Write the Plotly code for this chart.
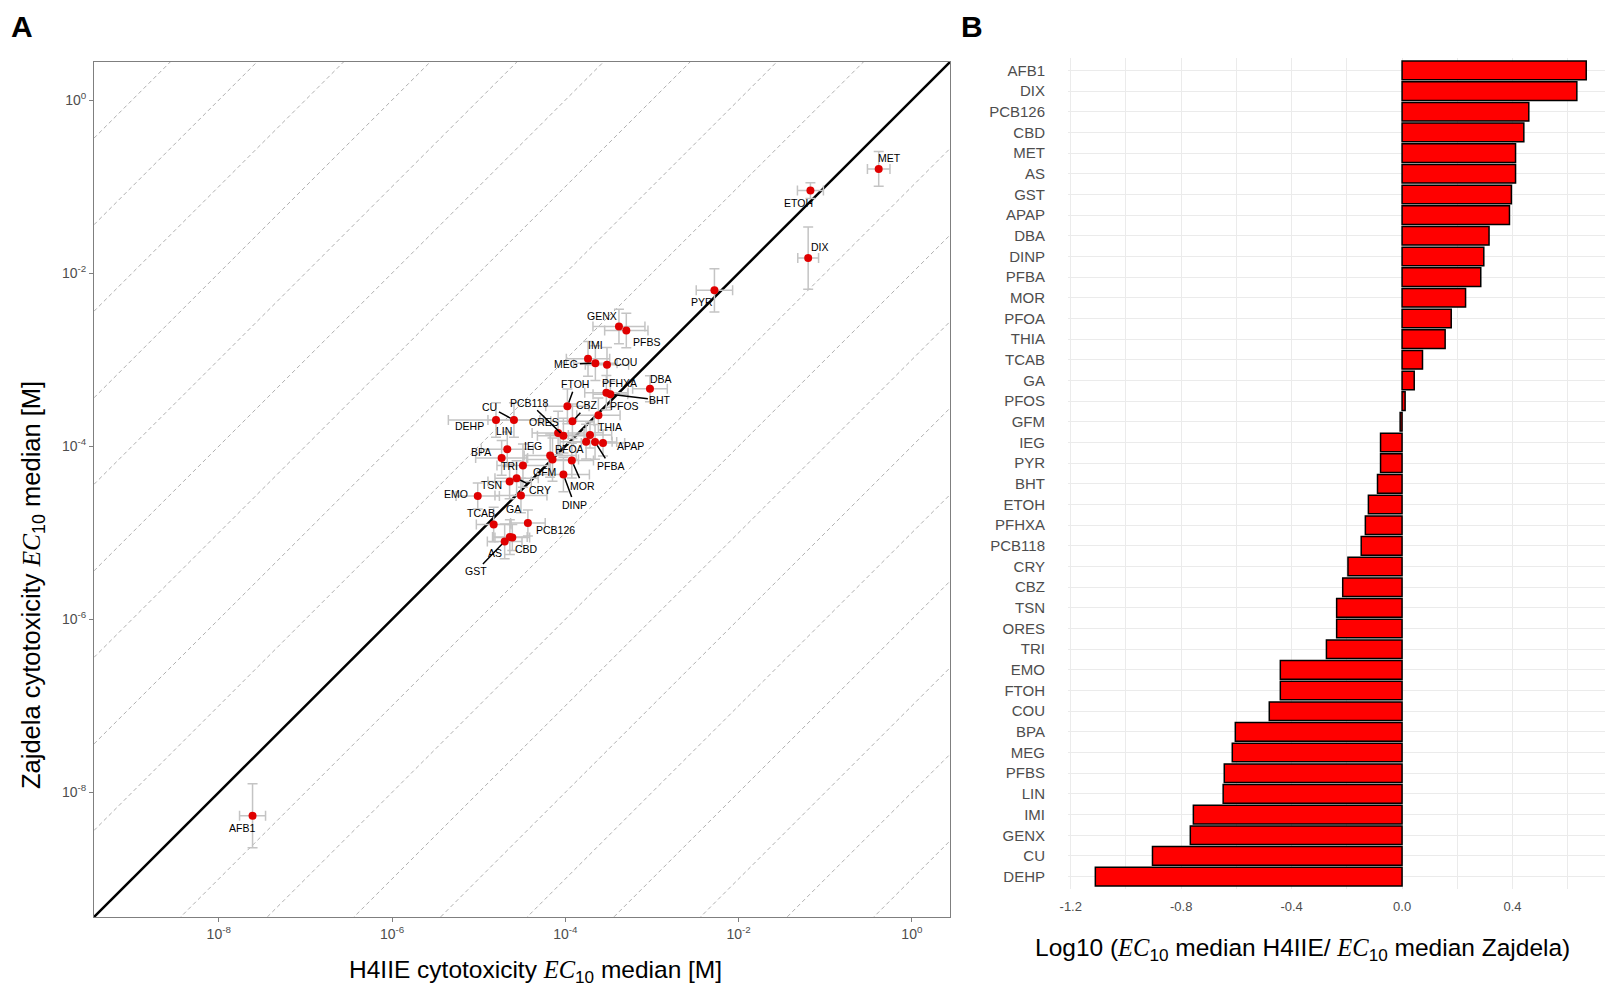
import plotly.graph_objects as go

# ---------------- data ----------------
compounds = ["AFB1", "DIX", "PCB126", "CBD", "MET", "AS", "GST", "APAP", "DBA", "DINP",
             "PFBA", "MOR", "PFOA", "THIA", "TCAB", "GA", "PFOS", "GFM", "IEG", "PYR",
             "BHT", "ETOH", "PFHXA", "PCB118", "CRY", "CBZ", "TSN", "ORES", "TRI", "EMO",
             "FTOH", "COU", "BPA", "MEG", "PFBS", "LIN", "IMI", "GENX", "CU", "DEHP"]

# log10(EC10 median H4IIE / EC10 median Zajdela)
log_ratio = [0.667, 0.633, 0.459, 0.441, 0.411, 0.411, 0.396, 0.389, 0.315, 0.296,
             0.285, 0.230, 0.178, 0.156, 0.074, 0.044, 0.011, -0.007, -0.078, -0.078,
             -0.089, -0.122, -0.133, -0.148, -0.196, -0.215, -0.237, -0.237, -0.274, -0.441,
             -0.441, -0.481, -0.604, -0.615, -0.644, -0.648, -0.756, -0.767, -0.904, -1.111]

# log10 EC10 median [M], H4IIE (x) and Zajdela (y)
log_ec10_h4iie = [-7.61, -1.197, -4.432, -4.612, -0.383, -4.64, -4.70, -3.565, -3.023, -4.022,
                  -3.657, -3.925, -3.76, -3.715, -4.827, -4.512, -3.618, -4.148, -4.175, -2.279,
                  -3.48, -1.171, -3.526, -4.022, -4.562, -3.918, -4.643, -4.083, -4.489, -5.011,
                  -3.976, -3.519, -4.735, -3.653, -3.296, -4.67, -3.738, -3.381, -4.593, -4.80]
log_ec10_zajdela = [-8.27, -1.826, -4.888, -5.054, -0.795, -5.05, -5.10, -3.962, -3.336, -4.327,
                    -3.950, -4.166, -3.947, -3.870, -4.904, -4.569, -3.643, -4.154, -4.108, -2.198,
                    -3.40, -1.046, -3.382, -3.878, -4.369, -3.712, -4.408, -3.847, -4.223, -4.576,
                    -3.539, -3.059, -4.135, -3.040, -2.663, -4.035, -2.990, -2.617, -3.697, -3.697]
# spread (decades) of the error bars
err_h4iie = [0.15, 0.12, 0.20, 0.20, 0.13, 0.20, 0.20, 0.25, 0.20, 0.30,
             0.25, 0.25, 0.30, 0.25, 0.20, 0.30, 0.25, 0.30, 0.30, 0.21,
             0.20, 0.15, 0.25, 0.30, 0.25, 0.25, 0.25, 0.30, 0.30, 0.25,
             0.25, 0.25, 0.30, 0.25, 0.25, 0.30, 0.25, 0.30, 0.30, 0.55]
err_zajdela = [0.37, 0.36, 0.15, 0.15, 0.20, 0.20, 0.20, 0.15, 0.15, 0.20,
               0.20, 0.20, 0.20, 0.15, 0.20, 0.20, 0.20, 0.25, 0.25, 0.25,
               0.15, 0.09, 0.20, 0.20, 0.20, 0.20, 0.20, 0.25, 0.25, 0.15,
               0.20, 0.20, 0.20, 0.20, 0.20, 0.20, 0.20, 0.20, 0.20, 0.20]

tick_exponents = [-8, -6, -4, -2, 0]
bar_ticks = [-1.2, -0.8, -0.4, 0.0, 0.4]

# ---------------- label placement (pixels) ----------------
label_offsets = {
    "AFB1": (-11, 12, 0), "DIX": (12, -11, 0), "PCB126": (28, 7, 0), "CBD": (14, 12, 0),
    "MET": (11, -11, 0), "AS": (-15, 16, 0), "GST": (-29, 30, 1), "APAP": (27, 3, 0),
    "DBA": (11, -10, 0), "DINP": (11, 30, 1), "PFBA": (15, 24, 1), "MOR": (11, 25, 1),
    "PFOA": (-17, 7, 0), "THIA": (20, -8, 0), "TCAB": (-13, -11, 0), "GA": (-7, 14, 0),
    "PFOS": (26, -9, 0), "GFM": (-8, 12, 0), "IEG": (-17, -10, 0), "PYR": (-12, 12, 0),
    "BHT": (50, 6, 1), "ETOH": (-12, 12, 0), "PFHXA": (13, -10, 0), "PCB118": (-34, -33, 1),
    "CRY": (23, 12, 1), "CBZ": (15, -16, 1), "TSN": (-18, 3, 0), "ORES": (-14, -11, 0),
    "TRI": (-13, 0, 0), "EMO": (-22, -2, 0), "FTOH": (8, -22, 1), "COU": (19, -3, 0),
    "BPA": (-21, -6, 0), "MEG": (-29, 1, 1), "PFBS": (20, 11, 0), "LIN": (-3, -18, 0),
    "IMI": (7, -14, 0), "GENX": (-17, -11, 0), "CU": (-24, -13, 1), "DEHP": (-27, 6, 0),
}

LO, HI = -9.44, 0.44
W, H = 1605, 986


def px(p):
    return p / W


def py(p):
    return 1 - p / H


FONT = "Liberation Sans, Arial, sans-serif"
fig = go.Figure()

# dashed reference lines (each decade off the 1:1 line)
for k in range(-9, 10):
    if k == 0:
        continue
    fig.add_trace(go.Scatter(x=[LO, HI], y=[LO + k, HI + k], mode="lines",
                             line=dict(color="#b0b0b0", width=1, dash="4px,3px"),
                             hoverinfo="skip", showlegend=False, xaxis="x", yaxis="y"))
# 1:1 line
fig.add_trace(go.Scatter(x=[LO, HI], y=[LO, HI], mode="lines",
                         line=dict(color="black", width=2.5),
                         hoverinfo="skip", showlegend=False, xaxis="x", yaxis="y"))
# points with error bars
fig.add_trace(go.Scatter(
    x=log_ec10_h4iie, y=log_ec10_zajdela, mode="markers", text=compounds,
    marker=dict(color="#e00000", size=8),
    error_x=dict(type="data", array=err_h4iie, color="#c4c4c4", thickness=1.5, width=5),
    error_y=dict(type="data", array=err_zajdela, color="#c4c4c4", thickness=1.5, width=5),
    showlegend=False, xaxis="x", yaxis="y"))

annotations = []
label_font = dict(family=FONT, size=10.5, color="black")
for name, xv, yv in zip(compounds, log_ec10_h4iie, log_ec10_zajdela):
    ax, ay, line = label_offsets[name]
    if line:
        annotations.append(dict(
            x=xv, y=yv, xref="x", yref="y", text=name, showarrow=True,
            ax=ax, ay=ay, axref="pixel", ayref="pixel", arrowhead=0,
            arrowwidth=1.5, standoff=4, arrowcolor="black", font=label_font))
    else:
        annotations.append(dict(
            x=xv, y=yv, xref="x", yref="y", text=name, showarrow=False,
            xshift=ax, yshift=-ay, xanchor="center", yanchor="middle", font=label_font))

# ---------------- bar panel ----------------
fig.add_trace(go.Bar(
    x=log_ratio, y=compounds, orientation="h",
    marker=dict(color="#ff0000", line=dict(color="black", width=1.5)),
    showlegend=False, xaxis="x2", yaxis="y2"))

ec = "<span style=\"font-family:'Liberation Serif'\"><i>EC</i></span><sub>10</sub>"


def paper_text(text, x, y, size, bold=False, angle=0):
    return dict(x=px(x), y=py(y), xref="paper", yref="paper",
                text=f"<b>{text}</b>" if bold else text, showarrow=False,
                xanchor="center", yanchor="middle", textangle=angle,
                font=dict(family=FONT, size=size, color="black"))


annotations += [
    paper_text("A", 22, 26, 30, bold=True),
    paper_text("B", 972, 26, 30, bold=True),
    paper_text(f"H4IIE cytotoxicity {ec} median [M]", 535, 971, 24.5),
    paper_text(f"Zajdela cytotoxicity {ec} median [M]", 33, 585, 25.5, angle=-90),
    paper_text(f"Log10 ({ec} median H4IIE/ {ec} median Zajdela)", 1302, 949, 24.5),
]

fig.update_layout(
    width=W, height=H,
    margin=dict(l=0, r=0, t=0, b=0, autoexpand=False),
    paper_bgcolor="white", plot_bgcolor="white",
    font=dict(family=FONT, color="black"),
    bargap=0.1,
    annotations=annotations,
    xaxis=dict(
        domain=[px(94), px(950)], range=[LO, HI], anchor="y", automargin=False,
        tickvals=tick_exponents, ticktext=[f"10<sup>{e}</sup>" for e in tick_exponents],
        tickfont=dict(size=14, color="#4d4d4d"),
        ticks="outside", ticklen=4, tickcolor="#7f7f7f",
        showgrid=False, zeroline=False,
        showline=True, linecolor="#7f7f7f", linewidth=1, mirror=True,
    ),
    yaxis=dict(
        domain=[py(917), py(62)], range=[LO, HI], anchor="x", automargin=False,
        tickvals=tick_exponents, ticktext=[f"10<sup>{e}</sup>" for e in tick_exponents],
        tickfont=dict(size=14, color="#4d4d4d"),
        ticks="outside", ticklen=4, tickcolor="#7f7f7f",
        showgrid=False, zeroline=False,
        showline=True, linecolor="#7f7f7f", linewidth=1, mirror=True,
    ),
    xaxis2=dict(
        domain=[px(1068), 1.0], range=[-1.21, 0.735], anchor="y2", automargin=False,
        tickvals=bar_ticks, ticktext=[f"{v:.1f}" for v in bar_ticks],
        tickfont=dict(size=13, color="#4d4d4d"),
        showgrid=True, gridcolor="#ebebeb", gridwidth=1.2,
        minor=dict(dtick=0.2, tick0=0, showgrid=True, gridcolor="#ebebeb", gridwidth=1.2),
        zeroline=False, showline=False, ticks="", ticklabelstandoff=8,
    ),
    yaxis2=dict(
        domain=[py(889), py(58)], anchor="x2", automargin=False,
        categoryorder="array", categoryarray=compounds,
        range=[len(compounds) - 0.4, -0.6],
        tickfont=dict(size=15, color="#4d4d4d"),
        showgrid=True, gridcolor="#ebebeb", gridwidth=1.2,
        zeroline=False, showline=False, ticks="", ticklabelstandoff=22,
    ),
)

fig.write_html("out.html", config={"displayModeBar": False},
               post_script="document.body.style.margin='0';document.body.style.overflow='hidden';")
